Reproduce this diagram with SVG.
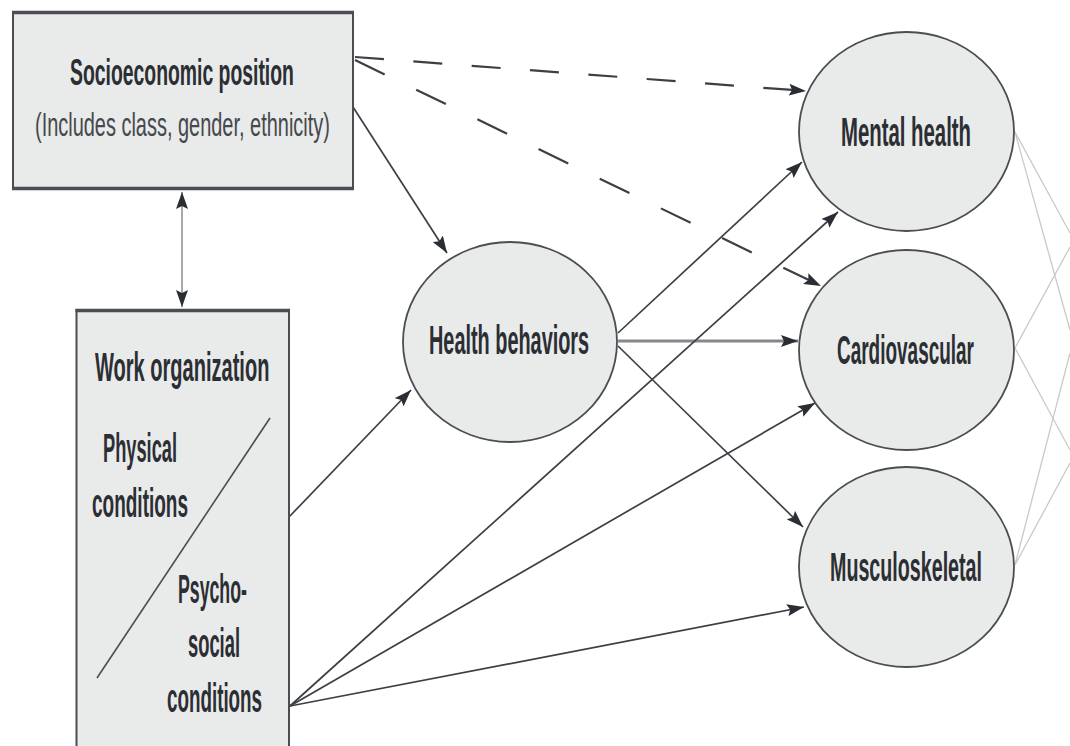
<svg xmlns="http://www.w3.org/2000/svg" width="1070" height="746" viewBox="0 0 1070 746">
<defs>
<marker id="ah" markerUnits="userSpaceOnUse" markerWidth="18" markerHeight="12" refX="17" refY="6" orient="auto-start-reverse" viewBox="0 0 18 12">
<path d="M0,0 L17,6 L0,12 L3,6 Z" fill="#2a2d33"/>
</marker>
</defs>
<style>
.box{fill:#e9eaea;stroke:#4a4d52;stroke-width:2}
.edge{stroke:#4a4d52;stroke-width:3.5}
.ell{fill:#e9eaea;stroke:#4a4d52;stroke-width:1.8}
.lbl{font-family:"Liberation Sans",Arial,sans-serif;font-weight:bold;font-size:40px;fill:#2b2e33}
.sub{font-family:"Liberation Sans",Arial,sans-serif;font-size:34px;fill:#45484d}
.ln{stroke:#3c3f44;stroke-width:1.7;fill:none}
.dash{stroke:#3c3f44;stroke-width:2.2;fill:none}
.gr{stroke:#c9c9c9;stroke-width:1.3;fill:none}
</style>
<rect width="1070" height="746" fill="#ffffff"/>

<g id="connectors">
<line x1="182" y1="192" x2="182" y2="307" stroke="#9a9a9a" stroke-width="1.7" marker-start="url(#ah)" marker-end="url(#ah)"/>
<line class="ln" x1="353" y1="107" x2="447" y2="253" marker-end="url(#ah)"/>
<line class="dash" x1="355" y1="57" x2="806" y2="91" stroke-dasharray="29 29.5" marker-end="url(#ah)"/>
<line class="dash" x1="355" y1="60" x2="821" y2="286" stroke-dasharray="33 35" marker-end="url(#ah)"/>
<line class="ln" x1="618" y1="333" x2="802" y2="162" marker-end="url(#ah)"/>
<line x1="618" y1="341" x2="798" y2="341" stroke="#85888c" stroke-width="3" marker-end="url(#ah)"/>
<line class="ln" x1="618" y1="346" x2="803" y2="527" marker-end="url(#ah)"/>
<line class="ln" x1="289" y1="517" x2="411" y2="390" marker-end="url(#ah)"/>
<line class="ln" x1="290" y1="706" x2="838" y2="212" marker-end="url(#ah)"/>
<line class="ln" x1="290" y1="706" x2="815" y2="403" marker-end="url(#ah)"/>
<line class="ln" x1="290" y1="706" x2="804" y2="607" marker-end="url(#ah)"/>
<line class="gr" x1="1015" y1="132" x2="1070" y2="233"/>
<line class="gr" x1="1015" y1="132" x2="1070" y2="330"/>
<line class="gr" x1="1015" y1="348" x2="1070" y2="247"/>
<line class="gr" x1="1015" y1="348" x2="1070" y2="450"/>
<line class="gr" x1="1015" y1="565" x2="1070" y2="463"/>
<line class="gr" x1="1015" y1="565" x2="1070" y2="353"/>
</g>

<g id="socioeconomic">
<rect class="box" x="13" y="12" width="340" height="177"/>
<line class="edge" x1="12" y1="12.5" x2="354" y2="12.5"/>
<line class="edge" x1="12" y1="188.5" x2="354" y2="188.5"/>
<text class="lbl" style="font-size:37px" transform="translate(70,85) scale(0.524,1)">Socioeconomic position</text>
<text class="sub" transform="translate(35,136) scale(0.587,1)">(Includes class, gender, ethnicity)</text>
</g>

<g id="work">
<rect class="box" x="76.5" y="310" width="212.5" height="460"/>
<line class="edge" x1="75.5" y1="310.5" x2="290" y2="310.5"/>
<text class="lbl" transform="translate(95,381) scale(0.501,1)">Work organization</text>
<line x1="270" y1="418" x2="97" y2="678" stroke="#4a4d52" stroke-width="1.6"/>
<text class="lbl" transform="translate(103,462) scale(0.456,1)">Physical</text>
<text class="lbl" transform="translate(92,517) scale(0.475,1)">conditions</text>
<text class="lbl" transform="translate(178,603) scale(0.443,1)">Psycho-</text>
<text class="lbl" transform="translate(188,657) scale(0.459,1)">social</text>
<text class="lbl" transform="translate(167,712) scale(0.47,1)">conditions</text>
</g>

<g id="health-behaviors">
<ellipse class="ell" cx="510" cy="342" rx="107" ry="100"/>
<text class="lbl" transform="translate(429,354) scale(0.497,1)">Health behaviors</text>
</g>

<g id="mental-health">
<ellipse class="ell" cx="906.5" cy="131.5" rx="107.5" ry="99.5"/>
<text class="lbl" transform="translate(841,146) scale(0.509,1)">Mental health</text>
</g>

<g id="cardiovascular">
<ellipse class="ell" cx="906.5" cy="350" rx="107.5" ry="100"/>
<text class="lbl" transform="translate(837,364) scale(0.474,1)">Cardiovascular</text>
</g>

<g id="musculoskeletal">
<ellipse class="ell" cx="906.5" cy="567" rx="107.5" ry="100"/>
<text class="lbl" transform="translate(830,581) scale(0.492,1)">Musculoskeletal</text>
</g>
</svg>
